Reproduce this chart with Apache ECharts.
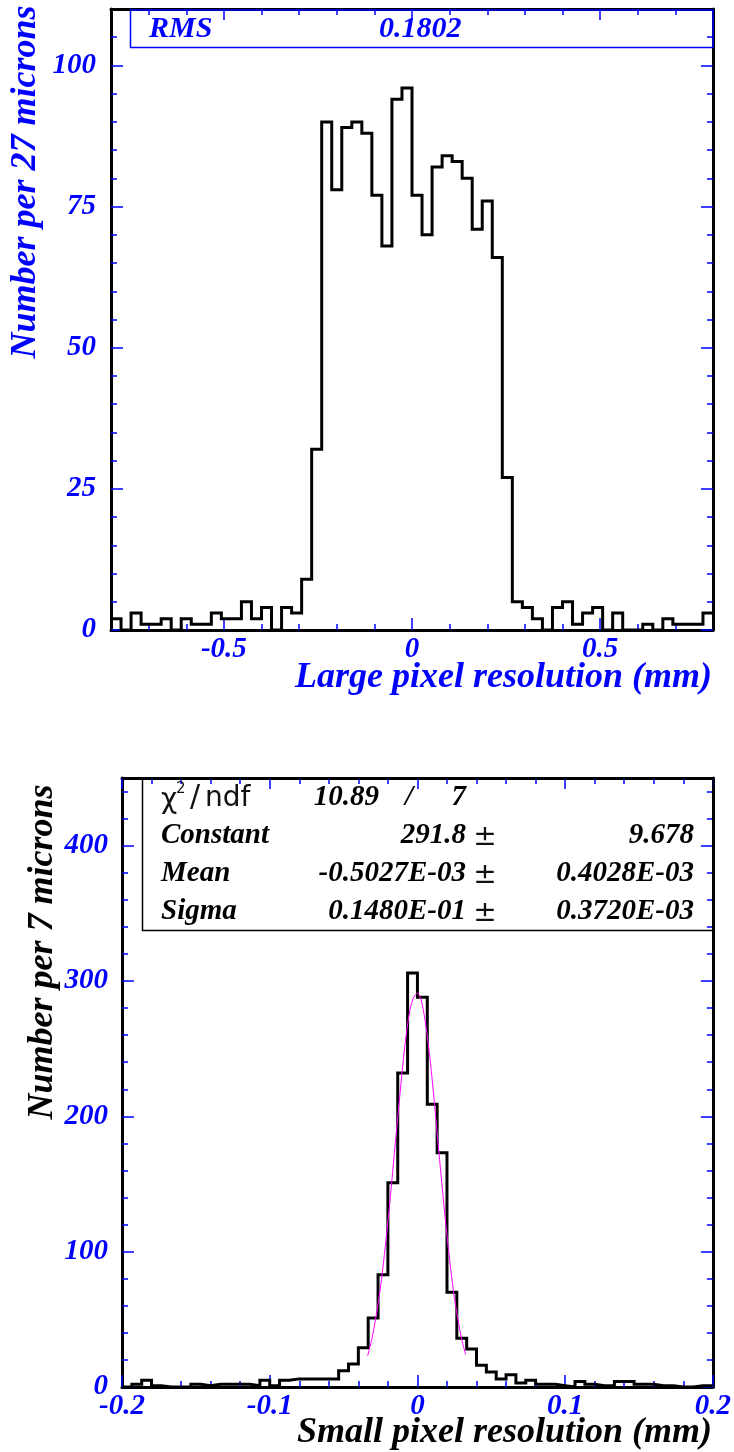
<!DOCTYPE html>
<html>
<head>
<meta charset="utf-8">
<title></title>
<script src="https://cdn.jsdelivr.net/npm/echarts@6/dist/echarts.min.js"></script>
<style>
	html, body { margin: 0; padding: 0; background: #fff; }
	#main { width: 734px; height: 1452px; }
</style>
</head>
<body>
<div id="main"></div>
<script>
	// large pixels: 60 bins between -0.8 and 0.8 mm
	var largeMin = -0.8, largeMax = 0.8, largeYMax = 110
	var largeCounts = [2,0,3,1,1,2,0,2,1,1, 3,2,2,5,2,4,0,4,3,9,
		32,90,78,89,90,88,77,68,94,96, 77,70,82,84,83,80,71,76,66,27,
		5,4,2,0,4,5,1,3,4,0, 3,0,0,1,0,2,1,1,1,3]
	var largeXMajor = [-0.5, 0, 0.5]
	var largeXMinor = [-0.7,-0.6,-0.4,-0.3,-0.2,-0.1,0.1,0.2,0.3,0.4,0.6,0.7]
	var largeYMajor = [0, 25, 50, 75, 100]
	var largeYMinor = [5,10,15,20,30,35,40,45,55,60,65,70,80,85,90,95,105]

	// small pixels: 60 bins between -0.2 and 0.2 mm
	var smallMin = -0.2, smallMax = 0.2, smallYMax = 450
	var smallCounts = [0,2,5,1,0,0,0,2,1,2, 2,2,2,1,5,1,5,6,6,6,
		6,6,12,17,29,51,83,151,232,306, 288,209,173,70,36,28,16,11,6,9,
		3,5,2,2,1,0,4,2,1,1, 4,4,2,2,1,1,0,0,1,1]
	var smallXMajor = [-0.2, -0.1, 0, 0.1, 0.2]
	var smallXMinor = [-0.18,-0.16,-0.14,-0.12,-0.08,-0.06,-0.04,-0.02,0.02,0.04,0.06,0.08,0.12,0.14,0.16,0.18]
	var smallYMajor = [0, 100, 200, 300, 400]
	var smallYMinor = [20,40,60,80,120,140,160,180,220,240,260,280,320,340,360,380,420,440]

	// gaussian fit curve
	var fitX = [-0.0337,-0.03,-0.025,-0.02,-0.015,-0.01,-0.0075,-0.005,-0.0025,0,0.0025,0.005,0.0075,0.01,0.015,0.02,0.025,0.03,0.0327]
	var fitY = [23,40,74,122,180,237,261,279,288,291,286,272,252,227,168,112,66,35,24]

	var myChart = echarts.init(document.getElementById('main'))
	var BLUE = '#0000ff'
	var SERIF = '"Liberation Serif", "Times New Roman", serif'

	function histo(counts, min, max) {
		var w = (max - min) / counts.length
		var pts = []
		for (var i = 0; i < counts.length; i++) {
			pts.push([min + i * w, counts[i]])
		}
		pts.push([max, counts[counts.length - 1]])
		return pts
	}

	function tickAxis(grid, pos, min, max, vals, len, line, labels, margin) {
		var a = {
			type: 'value',
			gridIndex: grid,
			position: pos,
			min: min,
			max: max,
			splitLine: { show: false },
			axisLine: { show: line, onZero: false, lineStyle: { color: '#000', width: 3 } },
			axisTick: { show: true, inside: true, length: len, customValues: vals, lineStyle: { color: BLUE, width: 1.5 } },
			axisLabel: { show: false }
		}
		if (labels) {
			a.axisLabel = {
				show: true,
				customValues: labels,
				color: BLUE,
				fontFamily: SERIF,
				fontStyle: 'italic',
				fontWeight: 'bold',
				fontSize: 29,
				margin: margin
			}
		}
		return a
	}

	var xAxes = [
		tickAxis(0, 'bottom', largeMin, largeMax, largeXMajor, 12, true, largeXMajor, 5),
		tickAxis(0, 'bottom', largeMin, largeMax, largeXMinor, 6, false),
		tickAxis(0, 'top', largeMin, largeMax, largeXMajor, 11, true),
		tickAxis(0, 'top', largeMin, largeMax, largeXMinor, 6, false),
		tickAxis(1, 'bottom', smallMin, smallMax, smallXMajor, 12, true, smallXMajor, 5),
		tickAxis(1, 'bottom', smallMin, smallMax, smallXMinor, 6, false),
		tickAxis(1, 'top', smallMin, smallMax, smallXMajor, 11, true),
		tickAxis(1, 'top', smallMin, smallMax, smallXMinor, 6, false)
	]
	var yAxes = [
		tickAxis(0, 'left', 0, largeYMax, largeYMajor, 12, true, largeYMajor, 15),
		tickAxis(0, 'left', 0, largeYMax, largeYMinor, 6, false),
		tickAxis(0, 'right', 0, largeYMax, largeYMajor, 12, true),
		tickAxis(0, 'right', 0, largeYMax, largeYMinor, 6, false),
		tickAxis(1, 'left', 0, smallYMax, smallYMajor, 12, true, smallYMajor, 14),
		tickAxis(1, 'left', 0, smallYMax, smallYMinor, 6, false),
		tickAxis(1, 'right', 0, smallYMax, smallYMajor, 12, true),
		tickAxis(1, 'right', 0, smallYMax, smallYMinor, 6, false)
	]

	var fitData = []
	for (var k = 0; k < fitX.length; k++) fitData.push([fitX[k], fitY[k]])

	function txt(x, y, s, size, color, align) {
		return {
			type: 'text',
			x: x,
			y: y,
			z: 100,
			style: {
				text: s,
				fill: color,
				font: 'italic bold ' + size + 'px ' + SERIF,
				align: align,
				textAlign: align,
				verticalAlign: 'middle',
				textVerticalAlign: 'middle'
			}
		}
	}
	function sans(x, y, s, size, align) {
		return {
			type: 'text', x: x, y: y, z: 100,
			style: { text: s, fill: '#111', font: 'normal ' + size + 'px "DejaVu Sans", sans-serif',
				align: align, textAlign: align, verticalAlign: 'middle', textVerticalAlign: 'middle' }
		}
	}

	var yTitle1 = txt(26, 182, 'Number per 27 microns', 36, BLUE, 'center')
	yTitle1.rotation = Math.PI / 2
	var yTitle2 = txt(43, 952, 'Number per 7 microns', 36, '#000', 'center')
	yTitle2.rotation = Math.PI / 2

	var graphics = [
		yTitle1,
		yTitle2,
		txt(712, 678, 'Large pixel resolution (mm)', 36, BLUE, 'right'),
		txt(712, 1433, 'Small pixel resolution (mm)', 36, '#000', 'right'),
		// RMS box
		{ type: 'rect', z: 90, shape: { x: 130.5, y: 10, width: 582.5, height: 37.5 },
			style: { fill: 'none', stroke: BLUE, lineWidth: 1.5 } },
		txt(149, 29, 'RMS', 30, BLUE, 'left'),
		txt(379, 29, '0.1802', 30, BLUE, 'left'),
		// fit box
		{ type: 'rect', z: 90, shape: { x: 142.5, y: 779, width: 570.5, height: 151.5 },
			style: { fill: 'none', stroke: '#000', lineWidth: 1.5 } },
		sans(161, 801, 'χ', 28, 'left'),
		sans(176, 789, '2', 15, 'left'),
		sans(195, 798, '/', 30, 'center'),
		sans(205, 799, 'ndf', 28, 'left'),
		txt(379, 798, '10.89', 29, '#000', 'right'),
		txt(409, 798, '/', 29, '#000', 'center'),
		txt(466, 798, '7', 29, '#000', 'right'),
		txt(161, 836, 'Constant', 29, '#000', 'left'),
		txt(161, 874, 'Mean', 29, '#000', 'left'),
		txt(161, 912, 'Sigma', 29, '#000', 'left'),
		txt(466, 836, '291.8', 29, '#000', 'right'),
		txt(466, 874, '-0.5027E-03', 29, '#000', 'right'),
		txt(466, 912, '0.1480E-01', 29, '#000', 'right'),
		sans(485, 838, '±', 28, 'center'),
		sans(485, 876, '±', 28, 'center'),
		sans(485, 914, '±', 28, 'center'),
		txt(694, 836, '9.678', 29, '#000', 'right'),
		txt(694, 874, '0.4028E-03', 29, '#000', 'right'),
		txt(694, 912, '0.3720E-03', 29, '#000', 'right')
	]

	var option = {
		animation: false,
		grid: [
			{ left: 111, top: 9, width: 602, height: 621 },
			{ left: 122, top: 778, width: 592, height: 609 }
		],
		xAxis: xAxes,
		yAxis: yAxes,
		series: [
			{
				type: 'line',
				xAxisIndex: 0,
				yAxisIndex: 0,
				step: 'end',
				showSymbol: false,
				data: histo(largeCounts, largeMin, largeMax),
				lineStyle: { color: '#000', width: 3, join: 'miter' }
			},
			{
				type: 'line',
				xAxisIndex: 4,
				yAxisIndex: 4,
				step: 'end',
				showSymbol: false,
				data: histo(smallCounts, smallMin, smallMax),
				lineStyle: { color: '#000', width: 3, join: 'miter' }
			},
			{
				type: 'line',
				xAxisIndex: 4,
				yAxisIndex: 4,
				smooth: 0.3,
				showSymbol: false,
				z: 5,
				data: fitData,
				lineStyle: { color: '#ff00ff', width: 1 }
			}
		],
		graphic: graphics
	}
	myChart.setOption(option)
</script>
</body>
</html>
